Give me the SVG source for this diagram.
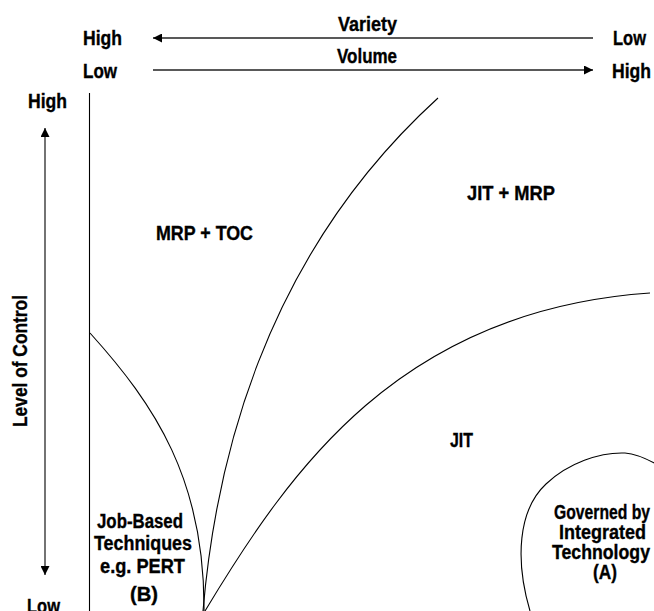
<svg xmlns="http://www.w3.org/2000/svg" width="654" height="611" viewBox="0 0 654 611">
<style>
  text { font-family: "Liberation Sans", Arial, sans-serif; font-weight: bold; font-size: 19.5px; fill: #000; stroke: #000; stroke-width: 0.35; }
  .curve { fill: none; stroke: #000; stroke-width: 1.1; }
  .axis { fill: none; stroke: #222; stroke-width: 1.4; }
</style>
<defs>
  <marker id="ah" viewBox="0 0 10 10" refX="10" refY="5" markerWidth="10" markerHeight="9" markerUnits="userSpaceOnUse" orient="auto-start-reverse">
    <path d="M0,0 L10,5 L0,10 Z" fill="#000"/>
  </marker>
</defs>
<rect width="654" height="611" fill="#fff"/>

<g id="top-axes">
  <text x="338" y="31" textLength="59" lengthAdjust="spacingAndGlyphs">Variety</text>
  <text x="337" y="63" textLength="60" lengthAdjust="spacingAndGlyphs">Volume</text>
  <text x="83" y="45" textLength="39" lengthAdjust="spacingAndGlyphs">High</text>
  <text x="613" y="45" textLength="33" lengthAdjust="spacingAndGlyphs">Low</text>
  <text x="83" y="78" textLength="34" lengthAdjust="spacingAndGlyphs">Low</text>
  <text x="612" y="78" textLength="39" lengthAdjust="spacingAndGlyphs">High</text>
</g>

<g id="left-axis">
  <text x="28" y="108" textLength="39" lengthAdjust="spacingAndGlyphs">High</text>
  <text x="27" y="613" textLength="33" lengthAdjust="spacingAndGlyphs">Low</text>
  <text transform="translate(27,427) rotate(-90)" x="0" y="0" textLength="132" lengthAdjust="spacingAndGlyphs">Level of Control</text>
</g>

<g id="connectors">
  <line class="axis" x1="593" y1="38" x2="153" y2="38" marker-end="url(#ah)"/>
  <line class="axis" x1="153" y1="70" x2="593" y2="70" marker-end="url(#ah)"/>
  <line class="curve" x1="45" y1="128" x2="45" y2="575" marker-start="url(#ah)" marker-end="url(#ah)"/>
  <line class="curve" x1="89.5" y1="93" x2="89.5" y2="611"/>
  <path class="curve" d="M203,611 C215,470 260,260 438,98"/>
  <path class="curve" d="M205,611 C290,470 400,310 650,293"/>
  <path class="curve" d="M90,333 C155,405 205,480 204,611"/>
  <path class="curve" d="M530,611 C515,560 518,510 546,484 C568,463 600,452 625,453 C637,454 647,459 656,464"/>
</g>

<g id="region-mrp-toc">
  <text x="156" y="240" textLength="97" lengthAdjust="spacingAndGlyphs">MRP + TOC</text>
</g>
<g id="region-jit-mrp">
  <text x="467" y="200" textLength="88" lengthAdjust="spacingAndGlyphs">JIT + MRP</text>
</g>
<g id="region-jit">
  <text x="450" y="447" textLength="23" lengthAdjust="spacingAndGlyphs">JIT</text>
</g>
<g id="region-job-based">
  <text x="97" y="528" textLength="86" lengthAdjust="spacingAndGlyphs">Job-Based</text>
  <text x="94" y="550" textLength="98" lengthAdjust="spacingAndGlyphs">Techniques</text>
  <text x="100" y="573" textLength="85" lengthAdjust="spacingAndGlyphs">e.g. PERT</text>
  <text x="130" y="601" textLength="28" lengthAdjust="spacingAndGlyphs">(B)</text>
</g>
<g id="region-integrated">
  <text x="554" y="519" textLength="96" lengthAdjust="spacingAndGlyphs">Governed by</text>
  <text x="559" y="539" textLength="87" lengthAdjust="spacingAndGlyphs">Integrated</text>
  <text x="552" y="559" textLength="98" lengthAdjust="spacingAndGlyphs">Technology</text>
  <text x="593" y="579" textLength="24" lengthAdjust="spacingAndGlyphs">(A)</text>
</g>
</svg>
